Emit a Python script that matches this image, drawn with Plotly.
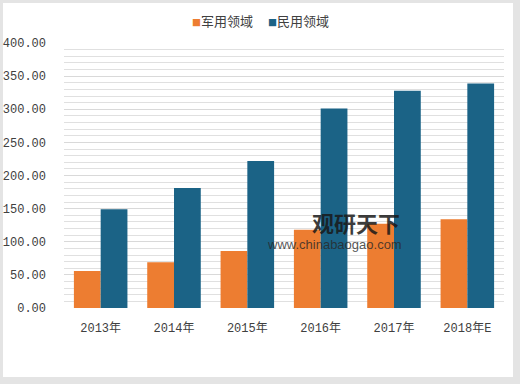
import plotly.graph_objects as go

categories = ["2013年", "2014年", "2015年", "2016年", "2017年", "2018年E"]
military = [56, 69, 86, 118, 127, 134]
civil = [149, 181, 222, 301, 328, 339]
series_names = ["军用领域", "民用领域"]
series_colors = ["#ed7d31", "#1b6386"]
y_ticks = [0, 50, 100, 150, 200, 250, 300, 350, 400]

W, H = 520, 384
L, R, T, B = 64, 16, 43, 76
pw, ph = W - L - R, H - T - B

def px(x):  # pixel -> paper
    return (x - L) / pw

def py(y):
    return (H - B - y) / ph

tick_font = "Liberation Mono, Noto Sans CJK SC, monospace"
cjk_font = "Noto Sans CJK SC, Noto Sans, sans-serif"

fig = go.Figure()
fig.add_trace(go.Bar(x=categories, y=military, name=series_names[0], showlegend=False,
                     marker=dict(color=series_colors[0], line=dict(width=0))))
fig.add_trace(go.Bar(x=categories, y=civil, name=series_names[1], showlegend=False,
                     marker=dict(color=series_colors[1], line=dict(width=0))))

fig.update_layout(
    width=W, height=H,
    margin=dict(l=L, r=R, t=T, b=B, autoexpand=False),
    paper_bgcolor="#e4e4e4",
    plot_bgcolor="#f2f2f2",
    barmode="group",
    bargap=0.27,
    bargroupgap=0,
    font=dict(family=tick_font, size=12, color="#404040"),
    shapes=[dict(type="rect", xref="paper", yref="paper",
                 x0=px(3), x1=px(513), y0=py(377), y1=py(3),
                 fillcolor="white", line=dict(width=0), layer="below")],
)

fig.update_yaxes(range=[0, 400], tickvals=y_ticks, tickformat=".2f",
                 showgrid=True, gridcolor="#d9d9d9", gridwidth=1,
                 minor=dict(dtick=10, showgrid=True, gridcolor="#e0e0e0", gridwidth=1),
                 zeroline=False, showline=False, ticks="", automargin=False,
                 ticklabelstandoff=17,
                 tickfont=dict(size=12, color="#404040", family=tick_font))
fig.update_xaxes(showgrid=False, showline=False, ticks="", automargin=False,
                 ticklabelstandoff=11,
                 tickfont=dict(size=12, color="#404040", family=tick_font))

# legend
legend_x = [190, 266]
for name, col, lx in zip(series_names, series_colors, legend_x):
    fig.add_annotation(xref="paper", yref="paper", x=px(lx), y=py(20),
                       xanchor="left", yanchor="middle", showarrow=False,
                       text=f"<span style='color:{col};font-size:9px'>■</span>{name}",
                       font=dict(size=13, color="#404040", family=cjk_font))

# watermark
fig.add_annotation(xref="paper", yref="paper", x=px(356), y=py(222), text="<b>观研天下</b>",
                   showarrow=False, yanchor="middle",
                   font=dict(size=22, color="rgba(25,25,25,0.85)", family=cjk_font))
fig.add_annotation(xref="paper", yref="paper", x=px(334), y=py(244), text="www.chinabaogao.com",
                   showarrow=False, yanchor="middle",
                   font=dict(size=13, color="rgba(40,40,40,0.8)", family="Liberation Sans, sans-serif"))

fig.write_html("out.html", config={"displayModeBar": False},
               post_script="document.body.style.margin='0';")
